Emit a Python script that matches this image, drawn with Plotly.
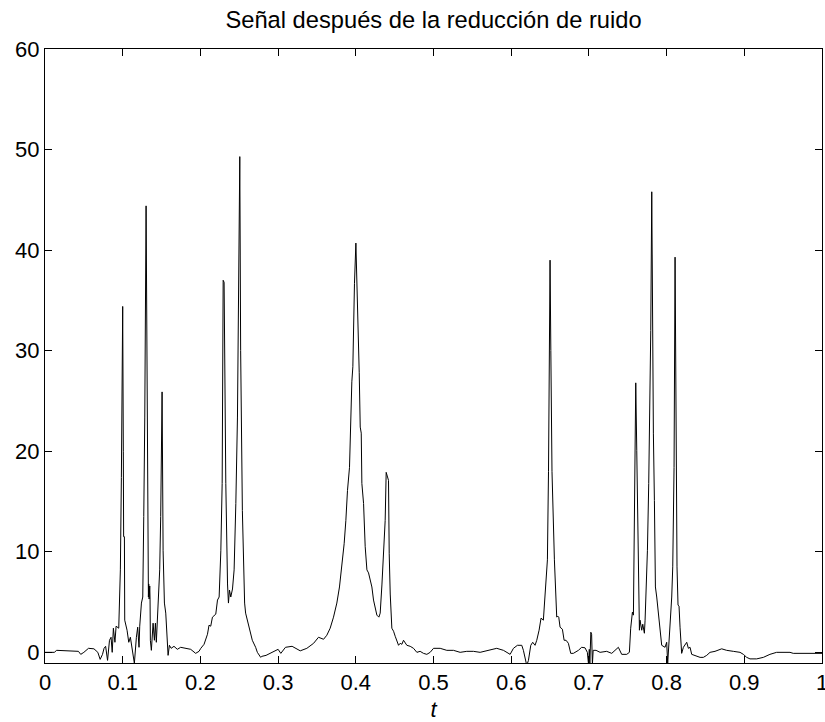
import plotly.graph_objects as go

# Time samples (t) and denoised signal values
t = [0.000, 0.012, 0.015, 0.030, 0.043, 0.046, 0.050, 0.056, 0.063, 0.068,
     0.071, 0.074, 0.076, 0.078, 0.0805, 0.083, 0.085, 0.0865, 0.088, 0.090,
     0.0915, 0.0949, 0.0970, 0.0983, 0.1000, 0.1008, 0.1012, 0.1022, 0.1026, 0.1056,
     0.1078, 0.1099, 0.1121, 0.1150, 0.1176, 0.1193, 0.1210, 0.1219, 0.1241, 0.1258,
     0.1271, 0.1284, 0.1301, 0.1313, 0.1322, 0.1331, 0.1335, 0.1340, 0.1348, 0.1352,
     0.1356, 0.1369, 0.1378, 0.1391, 0.1408, 0.1421, 0.1433, 0.1455, 0.1476, 0.1489,
     0.1507, 0.1520, 0.1537, 0.1554, 0.1571, 0.1584, 0.1601, 0.1624, 0.1660, 0.1703,
     0.1746, 0.1810, 0.1875, 0.1939, 0.1982, 0.2005, 0.2047, 0.2091, 0.2111, 0.2133,
     0.2155, 0.2198, 0.2220, 0.2241, 0.2263, 0.2280, 0.2293, 0.2305, 0.2327, 0.2349,
     0.2361, 0.2374, 0.2391, 0.2413, 0.2434, 0.2456, 0.2477, 0.2507, 0.2518, 0.2540,
     0.2553, 0.2569, 0.2582, 0.2604, 0.2625, 0.2647, 0.2668, 0.2711, 0.2733, 0.2776,
     0.2790, 0.2845, 0.2895, 0.3000, 0.3035, 0.3095, 0.3180, 0.3285, 0.3370, 0.3457,
     0.3520, 0.3585, 0.3627, 0.3670, 0.3713, 0.3756, 0.3790, 0.3820, 0.3850, 0.3872,
     0.3893, 0.3919, 0.3936, 0.3949, 0.3962, 0.3970, 0.3983, 0.4001, 0.4014, 0.4027,
     0.4044, 0.4057, 0.4070, 0.4078, 0.4100, 0.4121, 0.4143, 0.4164, 0.4185, 0.4207,
     0.4228, 0.4250, 0.4271, 0.4297, 0.4314, 0.4336, 0.4357, 0.4378, 0.4391, 0.4409,
     0.4421, 0.4430, 0.4443, 0.4464, 0.4486, 0.4507, 0.4528, 0.4550, 0.4571, 0.4593,
     0.4614, 0.4657, 0.4700, 0.4743, 0.4786, 0.4828, 0.4871, 0.4914, 0.4957, 0.5000,
     0.5086, 0.5171, 0.5257, 0.5343, 0.5428, 0.5514, 0.5600, 0.5728, 0.5814, 0.5900,
     0.5986, 0.6029, 0.6080, 0.6136, 0.6157, 0.6200, 0.6222, 0.6252, 0.6277, 0.6307,
     0.6329, 0.6359, 0.6384, 0.6414, 0.6427, 0.6449, 0.6466, 0.6480, 0.6492, 0.6500,
     0.6510, 0.6525, 0.6556, 0.6573, 0.6586, 0.6599, 0.6612, 0.6629, 0.6659, 0.6681,
     0.6706, 0.6736, 0.6766, 0.6800, 0.6865, 0.6907, 0.6950, 0.6980, 0.6995, 0.7005,
     0.7012, 0.7025, 0.7035, 0.7045, 0.7055, 0.7092, 0.7144, 0.7229, 0.7294, 0.7379,
     0.7409, 0.7422, 0.7487, 0.7521, 0.7538, 0.7560, 0.7573, 0.7581, 0.7590, 0.7603,
     0.7616, 0.7628, 0.7641, 0.7650, 0.7658, 0.7680, 0.7693, 0.7714, 0.7723, 0.7736,
     0.7753, 0.7770, 0.7787, 0.7796, 0.7809, 0.7821, 0.7830, 0.7843, 0.7856, 0.7873,
     0.7894, 0.7916, 0.7937, 0.7980, 0.8001, 0.8014, 0.8027, 0.8044, 0.8066, 0.8079,
     0.8096, 0.8109, 0.8121, 0.8134, 0.8147, 0.8160, 0.8173, 0.8194, 0.8216, 0.8237,
     0.8259, 0.8280, 0.8302, 0.8323, 0.8366, 0.8431, 0.8473, 0.8516, 0.8559, 0.8623,
     0.8709, 0.8773, 0.8859, 0.8945, 0.8988, 0.9031, 0.9073, 0.9159, 0.9245, 0.9330,
     0.9416, 0.9502, 0.9588, 0.9630, 0.9973, 1.0000]

y = [0.0, 0.0, 0.2, 0.15, 0.1, -0.2, 0.0, 0.4, 0.35, 0.0,
     -0.7, -0.2, 0.4, 0.6, -0.8, 1.2, 1.5, 0.0, 2.4, 1.0,
     2.6, 2.4, 8.2, 17.4, 34.4, 20.0, 11.5, 11.5, 3.2, 2.2,
     1.0, 1.5, 0.5, -1.1, 1.5, 2.5, 0.5, 2.6, 4.9, 5.5,
     13.5, 23.4, 44.4, 26.8, 16.8, 5.5, 6.8, 5.3, 6.6, 5.3,
     1.2, 0.2, 1.5, 2.9, 1.2, 2.9, 1.0, 4.9, 8.2, 13.5,
     25.9, 10.1, 4.9, 3.9, 0.5, -0.3, 0.7, 0.4, 0.6, 0.3,
     0.5, 0.4, 0.3, -0.1, 0.1, 0.4, 0.8, 1.8, 2.7, 2.6,
     3.5, 3.8, 5.2, 5.5, 10.1, 16.8, 37.0, 36.8, 16.8, 6.8,
     4.9, 6.2, 5.5, 6.3, 8.2, 14.8, 23.4, 49.3, 30.0, 14.1,
     8.2, 4.9, 3.9, 3.2, 2.4, 1.8, 1.2, 0.5, 0.0, -0.5,
     -0.4, -0.3, -0.1, 0.3, -0.1, 0.5, 0.6, 0.15, 0.4, 0.9,
     1.5, 1.3, 1.7, 2.4, 3.5, 4.9, 6.5, 8.5, 10.8, 13.1,
     16.1, 18.4, 23.8, 26.9, 28.4, 33.4, 36.7, 40.7, 37.3, 34.0,
     27.8, 22.4, 21.8, 16.8, 14.8, 10.5, 8.2, 7.9, 7.3, 6.5,
     5.2, 4.5, 3.7, 3.5, 3.9, 6.7, 9.8, 13.1, 17.9, 17.4,
     17.1, 9.8, 5.8, 2.4, 2.1, 1.6, 1.2, 0.7, 0.9, 0.8,
     1.2, 0.7, 0.6, 0.4, 0.0, 0.1, -0.1, -0.2, 0.0, 0.4,
     0.4, 0.2, 0.2, 0.0, 0.1, 0.1, 0.0, 0.2, 0.4, 0.2,
     -0.2, 0.4, 0.7, 0.7, 0.2, -1.3, -0.8, 0.7, 1.0, 0.7,
     1.2, 2.2, 3.4, 3.2, 4.9, 7.2, 9.2, 18.0, 30.0, 39.0,
     30.0, 18.0, 9.2, 6.2, 3.5, 3.6, 3.5, 2.5, 2.3, 1.2,
     1.2, 0.9, -0.1, -0.1, 0.2, 0.5, 0.45, 0.0, -1.2, 0.3,
     -1.2, 2.0, 1.8, -1.2, 0.2, 0.2, 0.0, 0.1, -0.1, 0.5,
     0.0, -0.2, -0.2, 0.0, 2.4, 4.0, 3.7, 8.5, 15.1, 26.8,
     20.1, 11.8, 7.5, 2.2, 3.2, 2.2, 2.8, 1.9, 3.2, 5.8,
     10.1, 16.8, 25.8, 32.0, 45.8, 28.4, 21.8, 15.1, 6.5, 5.5,
     3.9, 2.2, 0.7, 0.5, 1.0, -1.1, 0.5, 1.9, 5.5, 8.5,
     18.4, 39.3, 18.4, 8.5, 4.7, 4.6, 2.5, -0.1, 0.5, 0.7,
     1.0, 0.4, 0.5, -0.2, -0.3, -0.5, -0.5, -0.3, 0.0, 0.1,
     0.35, 0.2, 0.1, 0.0, -0.2, -0.5, -0.65, -0.65, -0.5, -0.2,
     0.0, 0.0, 0.0, -0.1, -0.1, -0.1]

x_ticks = [0, 0.1, 0.2, 0.3, 0.4, 0.5, 0.6, 0.7, 0.8, 0.9, 1]
x_tick_text = ["0", "0.1", "0.2", "0.3", "0.4", "0.5", "0.6", "0.7", "0.8", "0.9", "1"]
y_ticks = [0, 10, 20, 30, 40, 50, 60]

title_text = "Señal después de la reducción de ruido"
x_label = "<i>t</i>"

FONT = "Arial, 'Liberation Sans', Helvetica, sans-serif"

fig = go.Figure()
fig.add_trace(go.Scatter(x=t, y=y, mode="lines",
                         line=dict(color="black", width=1), showlegend=False,
                         hoverinfo="skip"))

fig.update_layout(
    width=825, height=722,
    margin=dict(l=45, r=3, t=49, b=59, autoexpand=False),
    paper_bgcolor="white", plot_bgcolor="white",
    font=dict(family=FONT, color="black", size=22),
    title=dict(text=title_text, x=0.5, xref="paper", xanchor="center",
               y=1 - 20 / 722, yref="container", yanchor="middle",
               font=dict(family=FONT, size=23.7, color="black")),
)
fig.update_xaxes(
    range=[0, 1], tickvals=x_ticks, ticktext=x_tick_text,
    ticks="inside", ticklen=7, tickcolor="black", tickwidth=1,
    showline=True, linecolor="black", linewidth=1, mirror="ticks",
    showgrid=False, zeroline=False, automargin=False,
    ticklabeloverflow="allow",
    tickfont=dict(family=FONT, size=22, color="black"),
    title=dict(text=x_label, standoff=7, font=dict(family=FONT, size=22, color="black")),
)
fig.update_yaxes(
    range=[-1.06, 60], tickvals=y_ticks,
    ticks="inside", ticklen=7, tickcolor="black", tickwidth=1,
    showline=True, linecolor="black", linewidth=1, mirror="ticks",
    showgrid=False, zeroline=False, automargin=False,
    ticklabeloverflow="allow",
    tickfont=dict(family=FONT, size=22, color="black"),
)

fig.write_html("out.html")
